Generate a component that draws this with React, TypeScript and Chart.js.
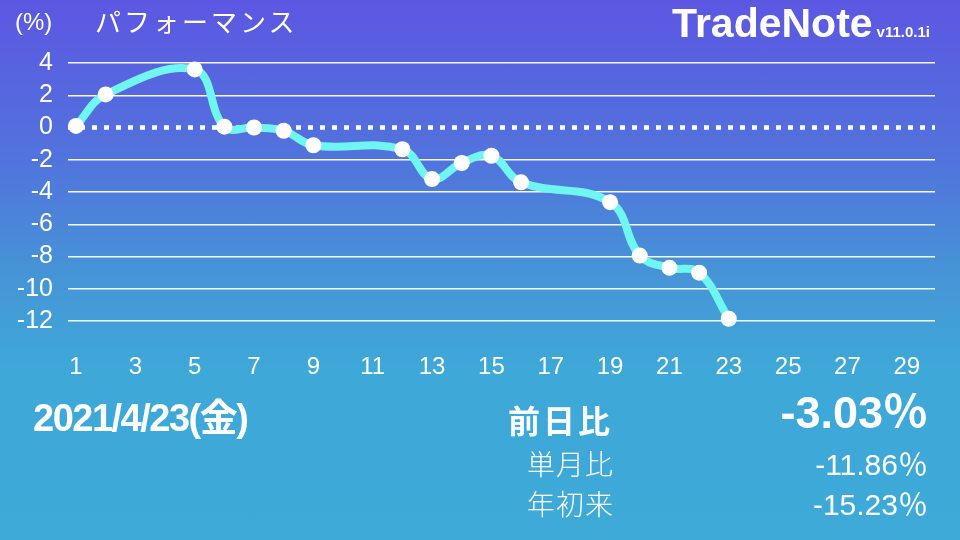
import { useEffect, useRef } from 'react';
import { Chart, registerables } from 'chart.js';

Chart.register(...registerables);

// trading days of April 2021 and cumulative performance (%)
const days = [1, 2, 5, 6, 7, 8, 9, 12, 13, 14, 15, 16, 19, 20, 21, 22, 23];
const perf = [0.1, 2.05, 3.6, 0.05, 0.0, -0.2, -1.1, -1.35, -3.2, -2.2, -1.75, -3.4, -4.63, -7.94, -8.7, -9.0, -11.86];
const xTicks = [1, 3, 5, 7, 9, 11, 13, 15, 17, 19, 21, 23, 25, 27, 29];

const LINE = 'rgb(112,246,240)';
const LATIN = '"Liberation Sans", Arial, "Noto Sans CJK JP", sans-serif';
const CJK = '"Noto Sans CJK JP", "Liberation Sans", sans-serif';

const zeroLine = {
  id: 'zeroLine',
  beforeDatasetsDraw(chart: Chart): void {
    const { ctx, chartArea, scales } = chart;
    const y = scales['y'].getPixelForValue(0);
    ctx.save();
    ctx.strokeStyle = '#ffffff';
    ctx.lineWidth = 4.5;
    ctx.setLineDash([5, 7]);
    ctx.beginPath();
    ctx.moveTo(chartArea.left, y);
    ctx.lineTo(chartArea.right, y);
    ctx.stroke();
    ctx.restore();
  },
};

function PerfChart(): JSX.Element {
  const canvasRef = useRef<HTMLCanvasElement>(null);

  useEffect(() => {
    if (!canvasRef.current) return;
    const chart = new Chart(canvasRef.current, {
      type: 'line',
      plugins: [zeroLine],
      data: {
        datasets: [
          {
            data: days.map((d, i) => ({ x: d, y: perf[i] })),
            borderColor: LINE,
            borderWidth: 8,
            tension: 0.4,
            pointRadius: 8,
            pointBackgroundColor: '#ffffff',
            pointBorderWidth: 0,
            clip: false,
          },
        ],
      },
      options: {
        animation: false,
        responsive: true,
        maintainAspectRatio: false,
        layout: { padding: { top: 63, right: 25, left: 0, bottom: 0 } },
        plugins: { legend: { display: false }, tooltip: { enabled: false } },
        scales: {
          x: {
            type: 'linear',
            min: 0.73,
            max: 29.95,
            afterBuildTicks: (s: any) => { s.ticks = xTicks.map(v => ({ value: v })); },
            afterFit: (s: any) => { s.height = 219; },
            grid: { display: false, drawTicks: false },
            border: { display: false },
            ticks: { color: '#ffffff', padding: 32, font: { family: LATIN, size: 24 }, autoSkip: false, maxRotation: 0 },
          },
          y: {
            min: -12,
            max: 4,
            afterFit: (s: any) => { s.width = 68; },
            grid: {
              drawTicks: false,
              lineWidth: 1.5,
              color: (c: any) => (c.tick && c.tick.value === 0 ? 'rgba(0,0,0,0)' : 'rgba(255,255,255,0.95)'),
            },
            border: { display: false },
            ticks: { stepSize: 2, autoSkip: false, color: '#ffffff', padding: 15, font: { family: LATIN, size: 25 } },
          },
        },
      },
    });
    return () => { chart.destroy(); };
  }, []);

  return <canvas ref={canvasRef} role="img" aria-label="パフォーマンス" />;
}

export default function App(): JSX.Element {
  const abs = (s: any): any => ({ position: 'absolute', color: '#ffffff', lineHeight: 1, whiteSpace: 'nowrap', margin: 0, ...s });
  return (
    <div
      style={{
        position: 'fixed',
        left: 0,
        top: 0,
        width: 960,
        height: 540,
        overflow: 'hidden',
        background: 'linear-gradient(180deg, #5c57e2 0%, #5174dc 30%, #4596d7 52%, #3ea8d8 68%, #3eaad8 100%)',
      }}
    >
      <div style={{ position: 'absolute', left: 0, top: 0, width: 960, height: 540 }}>
        <PerfChart />
      </div>
      <div style={abs({ left: 15, top: 10, fontFamily: LATIN, fontSize: 24 })}>(%)</div>
      <div style={abs({ left: 95, top: 8, fontFamily: CJK, fontSize: 26, fontWeight: 400, letterSpacing: 3 })}>パフォーマンス</div>
      <div style={abs({ right: 30, top: 3, display: 'flex', alignItems: 'baseline', fontFamily: LATIN, fontWeight: 700 })}>
        <span style={{ fontSize: 41 }}>TradeNote</span>
        <span style={{ fontSize: 15, marginLeft: 4 }}>v11.0.1i</span>
      </div>
      <div style={abs({ left: 33, top: 399, fontFamily: LATIN, fontSize: 38, fontWeight: 700, letterSpacing: -1.5 })}>2021/4/23(金)</div>
      <div style={abs({ left: 508, top: 403, fontFamily: CJK, fontSize: 32, fontWeight: 700, letterSpacing: 3 })}>前日比</div>
      <div style={abs({ right: 32, top: 390, fontFamily: LATIN, fontSize: 45, fontWeight: 700 })}>-3.03％</div>
      <div style={abs({ left: 527, top: 449, fontFamily: CJK, fontSize: 28, fontWeight: 300, letterSpacing: 1 })}>単月比</div>
      <div style={abs({ right: 32, top: 450, fontFamily: LATIN, fontSize: 30 })}>-11.86％</div>
      <div style={abs({ left: 527, top: 489, fontFamily: CJK, fontSize: 28, fontWeight: 300, letterSpacing: 1 })}>年初来</div>
      <div style={abs({ right: 32, top: 490, fontFamily: LATIN, fontSize: 30 })}>-15.23％</div>
    </div>
  );
}
